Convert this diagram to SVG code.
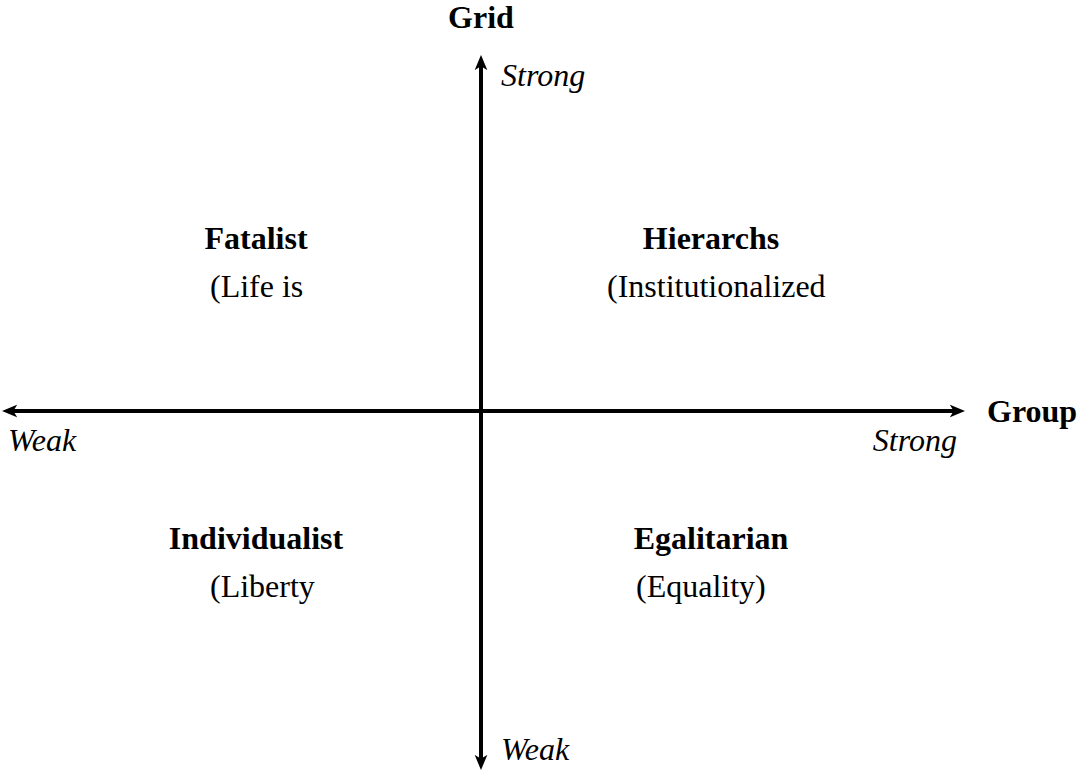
<svg xmlns="http://www.w3.org/2000/svg" width="1078" height="771" viewBox="0 0 1078 771">
<style>
text{font-family:"Liberation Serif","Times New Roman",serif;font-size:32px;fill:#000}
.b{font-weight:bold}
.i{font-style:italic}
.m{text-anchor:middle}
.e{text-anchor:end}
.ax{stroke:#000;stroke-width:4;fill:none}
</style>
<defs>
<marker id="ah" viewBox="0 0 12 10" refX="8" refY="5" markerWidth="3.8" markerHeight="3.9" orient="auto-start-reverse" markerUnits="strokeWidth">
<path d="M0,0 L12,5 L0,10 L3,5 Z" fill="#000"/>
</marker>
</defs>
<g id="connectors">
<line class="ax" x1="481" y1="765" x2="481" y2="60" marker-start="url(#ah)" marker-end="url(#ah)"/>
<line class="ax" x1="7" y1="411" x2="960" y2="411" marker-start="url(#ah)" marker-end="url(#ah)"/>
</g>
<g id="axis-labels">
<text class="b m" x="481" y="28">Grid</text>
<text class="i" x="501" y="86">Strong</text>
<text class="i" x="501" y="760">Weak</text>
<text class="b" x="987" y="422">Group</text>
<text class="i" x="8" y="451">Weak</text>
<text class="i e" x="957" y="451">Strong</text>
</g>
<g id="fatalist">
<text class="b m" x="256" y="249">Fatalist</text>
<text x="210" y="297">(Life is</text>
</g>
<g id="hierarchs">
<text class="b m" x="711" y="249">Hierarchs</text>
<text x="607" y="297">(Institutionalized</text>
</g>
<g id="individualist">
<text class="b m" x="256" y="549">Individualist</text>
<text x="210" y="597">(Liberty</text>
</g>
<g id="egalitarian">
<text class="b m" x="711" y="549">Egalitarian</text>
<text x="636" y="597">(Equality)</text>
</g>
</svg>
